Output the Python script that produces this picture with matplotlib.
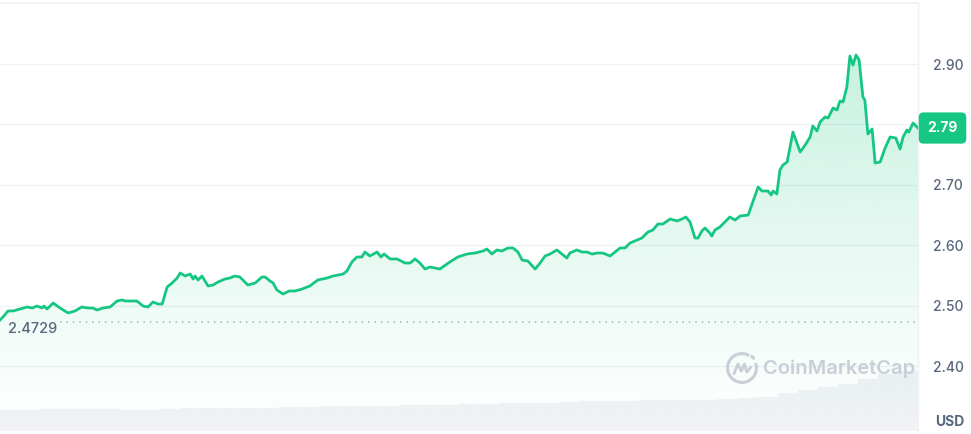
import numpy as np
import matplotlib.pyplot as plt
from matplotlib import transforms
from matplotlib.patches import Arc, Polygon

plt.rcParams['font.family'] = ['Inter', 'DejaVu Sans']

# hours since start of the 24h window
hours = [
    0.00, 0.10, 0.21, 0.34, 0.52, 0.71, 0.84, 0.97, 1.10, 1.15,
    1.23, 1.39, 1.57, 1.78, 1.96, 2.14, 2.30, 2.43, 2.54, 2.69,
    2.88, 3.06, 3.19, 3.27, 3.35, 3.58, 3.74, 3.87, 4.00, 4.13,
    4.24, 4.37, 4.50, 4.63, 4.71, 4.84, 4.97, 5.05, 5.10, 5.18,
    5.28, 5.44, 5.57, 5.70, 5.88, 6.01, 6.14, 6.27, 6.35, 6.48,
    6.67, 6.85, 6.93, 7.06, 7.14, 7.24, 7.40, 7.56, 7.71, 7.90,
    8.10, 8.31, 8.55, 8.71, 8.97, 9.07, 9.20, 9.33, 9.46, 9.54,
    9.67, 9.86, 9.96, 10.04, 10.20, 10.38, 10.59, 10.72, 10.85, 10.98,
    11.11, 11.24, 11.37, 11.50, 11.76, 11.97, 12.21, 12.42, 12.63, 12.73,
    12.86, 12.99, 13.12, 13.28, 13.41, 13.54, 13.65, 13.80, 13.99, 14.12,
    14.25, 14.38, 14.56, 14.72, 14.82, 14.90, 15.08, 15.22, 15.35, 15.48,
    15.61, 15.76, 15.95, 16.08, 16.21, 16.34, 16.47, 16.60, 16.78, 16.94,
    17.07, 17.20, 17.33, 17.52, 17.70, 17.83, 17.93, 18.04, 18.17, 18.25,
    18.35, 18.43, 18.56, 18.61, 18.69, 18.82, 18.95, 19.08, 19.22, 19.35,
    19.56, 19.82, 19.92, 20.08, 20.16, 20.21, 20.31, 20.39, 20.47, 20.58,
    20.73, 20.92, 21.05, 21.18, 21.25, 21.36, 21.44, 21.57, 21.65, 21.78,
    21.88, 21.96, 22.04, 22.14, 22.22, 22.30, 22.38, 22.46, 22.56, 22.61,
    22.69, 22.80, 22.88, 23.01, 23.14, 23.27, 23.42, 23.53, 23.61, 23.71,
    23.76, 23.87, 24.00,
]

price = [
    2.4762, 2.4828, 2.4911, 2.4911, 2.4944, 2.4977, 2.4960, 2.4993, 2.4960, 2.4993,
    2.4944, 2.5043, 2.4960, 2.4878, 2.4911, 2.4977, 2.4960, 2.4960, 2.4927, 2.4960,
    2.4977, 2.5076, 2.5093, 2.5076, 2.5076, 2.5076, 2.4993, 2.4977, 2.5060, 2.5026,
    2.5026, 2.5308, 2.5374, 2.5457, 2.5540, 2.5490, 2.5523, 2.5440, 2.5490, 2.5424,
    2.5490, 2.5325, 2.5341, 2.5391, 2.5440, 2.5457, 2.5490, 2.5474, 2.5424, 2.5341,
    2.5374, 2.5474, 2.5474, 2.5407, 2.5374, 2.5258, 2.5192, 2.5242, 2.5242, 2.5275,
    2.5325, 2.5424, 2.5457, 2.5490, 2.5523, 2.5573, 2.5722, 2.5805, 2.5805, 2.5887,
    2.5821, 2.5887, 2.5805, 2.5854, 2.5772, 2.5772, 2.5705, 2.5705, 2.5772, 2.5705,
    2.5606, 2.5639, 2.5623, 2.5606, 2.5722, 2.5805, 2.5854, 2.5871, 2.5904, 2.5937,
    2.5854, 2.5921, 2.5904, 2.5954, 2.5954, 2.5887, 2.5755, 2.5738, 2.5606, 2.5705,
    2.5821, 2.5854, 2.5921, 2.5838, 2.5788, 2.5871, 2.5921, 2.5887, 2.5887, 2.5854,
    2.5871, 2.5871, 2.5821, 2.5887, 2.5954, 2.5954, 2.6036, 2.6070, 2.6119, 2.6219,
    2.6252, 2.6351, 2.6351, 2.6434, 2.6401, 2.6434, 2.6467, 2.6384, 2.6119, 2.6119,
    2.6235, 2.6285, 2.6202, 2.6152, 2.6252, 2.6301, 2.6384, 2.6467, 2.6417, 2.6484,
    2.6500, 2.6964, 2.6897, 2.6897, 2.6831, 2.6897, 2.6848, 2.7245, 2.7328, 2.7378,
    2.7874, 2.7543, 2.7659, 2.7791, 2.7974, 2.7891, 2.8040, 2.8123, 2.8106, 2.8272,
    2.8238, 2.8387, 2.8371, 2.8619, 2.9132, 2.8983, 2.9149, 2.9066, 2.8454, 2.8404,
    2.7841, 2.7924, 2.7361, 2.7378, 2.7609, 2.7791, 2.7775, 2.7593, 2.7791, 2.7907,
    2.7874, 2.8023, 2.7940,
]
assert len(hours) == len(price), (len(hours), len(price))

open_price = 2.4729

# 24h volume (million USD), one bar per ~31 minutes
volume = [
    84, 84, 88, 88, 88, 88, 84, 84, 88, 92,
    92, 92, 92, 92, 96, 96, 100, 100, 100, 100,
    104, 104, 104, 108, 108, 112, 112, 112, 116, 120,
    120, 120, 124, 124, 124, 124, 128, 132, 136, 152,
    164, 176, 188, 208, 228, 240,
]

yticks = [2.40, 2.50, 2.60, 2.70, 2.80, 2.90]

green = '#16c784'
grey_text = '#58667e'
grid_c = '#eff2f5'

fig = plt.figure(figsize=(9.71, 4.34), dpi=100)
W, H = 971, 434

# volume axes (bottom strip)
axv = fig.add_axes([0, (434 - 431) / H, 918 / W, 62 / H])
vx = np.linspace(0, 24, len(volume) + 1)
axv.bar(vx[:-1], volume, width=np.diff(vx), align='edge', color='#f0f2f5',
        edgecolor='#f8f9fb', linewidth=0.3)
axv.set_xlim(0, 24)
axv.set_ylim(0, 248)
axv.axis('off')

# price axes
ax = fig.add_axes([0, (434 - 431) / H, 918 / W, 428 / H])
ax.patch.set_alpha(0)
ax.set_xlim(0, 24)
ax.set_ylim(2.2924, 3.001)

for t in yticks:
    ax.axhline(t, color=grid_c, lw=0.9, zorder=0)

# gradient fill under line
ylo, yhi = 2.2924, 2.93
grad = np.zeros((256, 2, 4))
rgb = np.array([0x16, 0xc7, 0x84]) / 255
grad[:, :, :3] = rgb
alpha = np.linspace(0.28, 0.0, 256) ** 1.1
grad[:, :, 3] = alpha[:, None]
im = ax.imshow(grad, extent=[0, 24, ylo, yhi], aspect='auto', origin='upper', zorder=1)
poly = Polygon(np.column_stack([[hours[0]] + hours + [hours[-1]],
                                [ylo] + price + [ylo]]),
               closed=True, transform=ax.transData, facecolor='none', edgecolor='none')
ax.add_patch(poly)
im.set_clip_path(poly)

ax.plot(hours, price, color=green, lw=2.0, zorder=3, solid_joinstyle='round')

# open price reference
ax.plot([1.57, 24], [open_price, open_price], color='#a6b0c3', lw=1.1,
        linestyle=(0, (1, 3.2)), zorder=2)
ax.text(0.21, open_price - 0.0005, f'{open_price:.4f}', color=grey_text, fontsize=10.5,
        va='top', ha='left', fontweight='medium', zorder=4)

# frame
for s in ['left', 'bottom']:
    ax.spines[s].set_visible(False)
ax.spines['top'].set_color('#eff2f5')
ax.spines['right'].set_color('#eff2f5')
ax.spines['top'].set_linewidth(1.2)
ax.spines['right'].set_linewidth(1.0)

ax.set_xticks([])
ax.yaxis.tick_right()
ax.set_yticks(yticks)
# the 2.80 label sits under the current-price tag
ax.set_yticklabels(['' if abs(t - 2.80) < 1e-9 else f'{t:.2f}' for t in yticks])
ax.tick_params(axis='y', length=0, pad=11, labelsize=10, labelcolor=grey_text)
for lb in ax.get_yticklabels():
    lb.set_fontweight('medium')

# current price tag
trans = transforms.blended_transform_factory(ax.transAxes, ax.transData)
ax.text(1.0 + 24.5 / 918, price[-1], f'{price[-1]:.2f}', transform=trans,
        color='white', fontsize=10, fontweight='bold', ha='center', va='center',
        bbox=dict(boxstyle='round,pad=0.62,rounding_size=0.35', fc=green, ec='none'),
        zorder=5, clip_on=False)

# watermark
wm = '#c9ced8'
fig.text(763 / W, 1 - 369 / H, 'CoinMarketCap', color=wm, fontsize=14.5,
         fontweight='semibold', ha='left', va='center')
axl = fig.add_axes([726 / W, 1 - 384 / H, 32 / W, 32 / H])
axl.set_xlim(-1, 1)
axl.set_ylim(-1, 1)
axl.axis('off')
axl.add_patch(Arc((0, 0), 1.8, 1.8, theta1=60, theta2=380, color=wm, lw=2.2))
axl.plot([-0.5, -0.25, -0.05, 0.15, 0.3, 0.55], [-0.35, 0.25, -0.2, 0.25, -0.25, 0.05],
         color=wm, lw=2.0, solid_joinstyle='round', solid_capstyle='round')
axl.plot([0.62, 0.72], [0.72, 0.62], color=wm, lw=2.4, solid_capstyle='round')

fig.text(950 / W, 1 - 422 / H, 'USD', color=grey_text, fontsize=10,
         fontweight='bold', ha='center', va='center')

fig.savefig('out.png', dpi=100)
